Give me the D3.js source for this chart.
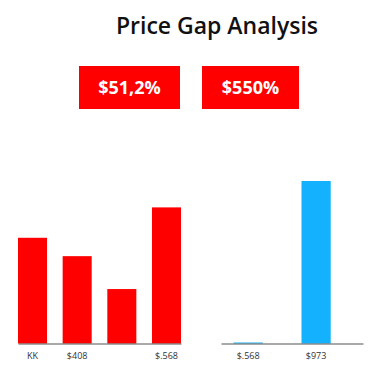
<!DOCTYPE html>
<html>
<head>
<meta charset="utf-8">
<script src="https://cdn.jsdelivr.net/npm/d3@7"></script>
<style>
  html, body { margin: 0; padding: 0; background: #fff; }
  svg { display: block; font-family: "Open Sans", "Lato", sans-serif; }
</style>
</head>
<body>
<svg id="chart" width="380" height="375"></svg>
<script>
// data
var title = "Price Gap Analysis";
var badges = ["$51,2%", "$550%"];

var leftCategories = ["c1", "c2", "c3", "c4"];
var leftLabels = ["KK", "$408", "", "$.568"];
var leftValues = [633, 523, 326, 815];

var rightCategories = ["$.568", "$973"];
var rightValues = [6, 973];

var svg = d3.select("#chart");

//Title
svg.append("text")
    .attr("x", 217)
    .attr("y", 34)
    .attr("font-size", "23px")
    .attr("font-weight", 600)
    .attr("fill", "#111")
    .style("text-anchor", "middle")
    .text(title);

//Red badges
var badgeX = d3.scaleOrdinal().domain(badges).range([79, 202]);
var badgeW = d3.scaleOrdinal().domain(badges).range([101, 97]);

var badge = svg.selectAll(".badge")
    .data(badges)
    .enter().append("g")
    .attr("class", "badge")
    .attr("transform", function(d) { return "translate(" + badgeX(d) + ",66)"; });

badge.append("rect")
    .attr("width", function(d) { return badgeW(d); })
    .attr("height", 43)
    .attr("fill", "#ff0000");

badge.append("text")
    .attr("x", function(d) { return badgeW(d) / 2; })
    .attr("y", 28)
    .attr("font-size", "18px")
    .attr("font-weight", 700)
    .attr("fill", "#fff")
    .style("text-anchor", "middle")
    .text(function(d) { return d; });

//Shared value scale
var baseY = 343.5;
var y = d3.scaleLinear().domain([0, 973]).range([baseY, 181]);

//Left bar chart
var xl = d3.scaleBand()
    .domain(leftCategories)
    .range([18, 181])
    .paddingInner(0.35)
    .paddingOuter(0);

svg.selectAll(".bar-left")
    .data(leftValues)
    .enter().append("rect")
    .attr("class", "bar-left")
    .attr("x", function(d, i) { return xl(leftCategories[i]); })
    .attr("width", xl.bandwidth())
    .attr("y", function(d) { return y(d); })
    .attr("height", function(d) { return baseY - y(d); })
    .attr("fill", "#ff0000");

var axisLeft = svg.append("g")
    .attr("transform", "translate(0," + baseY + ")")
    .call(d3.axisBottom(xl).tickSize(0).tickPadding(9)
        .tickFormat(function(d, i) { return leftLabels[i]; }));

//Right bar chart
var xr = d3.scaleBand()
    .domain(rightCategories)
    .range([221, 363])
    .paddingInner(0.57)
    .paddingOuter(0.33)
    .align(0.28);

svg.selectAll(".bar-right")
    .data(rightValues)
    .enter().append("rect")
    .attr("class", "bar-right")
    .attr("x", function(d, i) { return xr(rightCategories[i]); })
    .attr("width", xr.bandwidth())
    .attr("y", function(d) { return y(d); })
    .attr("height", function(d) { return baseY - y(d); })
    .attr("fill", "#14b1ff");

var axisRight = svg.append("g")
    .attr("transform", "translate(0," + baseY + ")")
    .call(d3.axisBottom(xr).tickSize(0).tickPadding(9));

//Axis styling
[axisLeft, axisRight].forEach(function(a) {
    a.select(".domain")
        .attr("stroke", "#555")
        .attr("stroke-width", 1.2);
    a.selectAll("text")
        .attr("font-family", "\"Open Sans\", sans-serif")
        .attr("font-size", "9px")
        .attr("fill", "#333");
});
</script>
</body>
</html>
